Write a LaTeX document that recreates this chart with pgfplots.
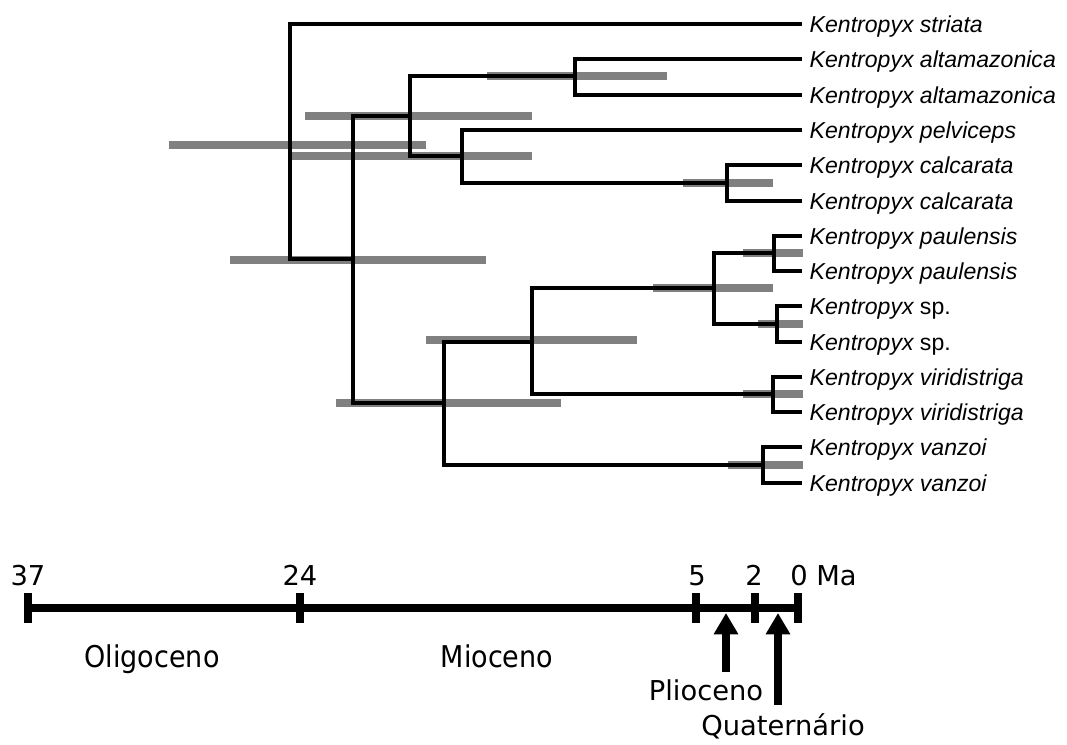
\documentclass[border=0pt]{standalone}
\usepackage{fontspec}
\setmainfont{Liberation Sans}
\newfontfamily\tfont{DejaVu Sans}
\newfontfamily\tfontn[FakeStretch=0.9]{DejaVu Sans}
\usepackage{pgfplots}
\pgfplotsset{compat=1.18}
\usetikzlibrary{arrows.meta}

\definecolor{bargray}{HTML}{808080}
\tikzset{tip/.style={anchor=base west, font=\fontsize{17.3}{20}\selectfont\itshape}}

\begin{document}
\begin{tikzpicture}
\begin{axis}[
    width=800.25pt, height=558pt, scale only axis,
    xmin=0, xmax=1067, ymin=0, ymax=744,
    y dir=reverse, hide axis, clip=false,
    branch/.style={black, line width=2.7pt, no markers, line join=miter},
    hpd/.style={bargray, line width=5.4pt, no markers},
]
\path (axis cs:0,0) rectangle (axis cs:1067,744);

% 95% HPD bars (x from, x to at node height)
\addplot[hpd] coordinates {(169,145) (426,145)};
\addplot[hpd] coordinates {(305,116) (532,116)};
\addplot[hpd] coordinates {(292,156) (532,156)};
\addplot[hpd] coordinates {(230,260) (486,260)};
\addplot[hpd] coordinates {(487,76) (667,76)};
\addplot[hpd] coordinates {(683,183) (773,183)};
\addplot[hpd] coordinates {(336,403) (561,403)};
\addplot[hpd] coordinates {(426,340) (637,340)};
\addplot[hpd] coordinates {(653,288) (773,288)};
\addplot[hpd] coordinates {(743,253) (803,253)};
\addplot[hpd] coordinates {(758,324) (803,324)};
\addplot[hpd] coordinates {(743,394) (803,394)};
\addplot[hpd] coordinates {(728,465) (803,465)};

% tree branches
\addplot[branch] coordinates {(802,24) (290,24) (290,259) (353,259)};
\addplot[branch] coordinates {(410,116) (353,116) (353,403) (444,403)};
\addplot[branch] coordinates {(575,76) (410,76) (410,156) (462,156)};
\addplot[branch] coordinates {(802,59) (575,59) (575,95) (802,95)};
\addplot[branch] coordinates {(802,130) (462,130) (462,183) (727,183)};
\addplot[branch] coordinates {(802,165) (727,165) (727,201) (802,201)};
\addplot[branch] coordinates {(532,342) (444,342) (444,465) (763,465)};
\addplot[branch] coordinates {(714,288) (532,288) (532,394) (773,394)};
\addplot[branch] coordinates {(774,253) (714,253) (714,324) (777,324)};
\addplot[branch] coordinates {(802,236) (774,236) (774,271) (802,271)};
\addplot[branch] coordinates {(802,306) (777,306) (777,342) (802,342)};
\addplot[branch] coordinates {(802,377) (773,377) (773,412) (802,412)};
\addplot[branch] coordinates {(802,447) (763,447) (763,483) (802,483)};

% tip labels
\node[tip] at (axis cs:805,32) {Kentropyx striata};
\node[tip] at (axis cs:805,67) {Kentropyx altamazonica};
\node[tip] at (axis cs:805,103) {Kentropyx altamazonica};
\node[tip] at (axis cs:805,138) {Kentropyx pelviceps};
\node[tip] at (axis cs:805,173) {Kentropyx calcarata};
\node[tip] at (axis cs:805,209) {Kentropyx calcarata};
\node[tip] at (axis cs:805,244) {Kentropyx paulensis};
\node[tip] at (axis cs:805,279) {Kentropyx paulensis};
\node[tip] at (axis cs:805,314) {Kentropyx \upshape sp.};
\node[tip] at (axis cs:805,350) {Kentropyx \upshape sp.};
\node[tip] at (axis cs:805,385) {Kentropyx viridistriga};
\node[tip] at (axis cs:805,420) {Kentropyx viridistriga};
\node[tip] at (axis cs:805,455) {Kentropyx vanzoi};
\node[tip] at (axis cs:805,491) {Kentropyx vanzoi};

% time scale
\addplot[black, line width=6pt, no markers] coordinates {(24,607.5) (802,607.5)};
\addplot[black, line width=6pt, no markers] coordinates {(28,593) (28,623)};
\addplot[black, line width=6pt, no markers] coordinates {(300,593) (300,623)};
\addplot[black, line width=6pt, no markers] coordinates {(696,593) (696,623)};
\addplot[black, line width=6pt, no markers] coordinates {(755,593) (755,623)};
\addplot[black, line width=6pt, no markers] coordinates {(798,593) (798,623)};
\addplot[black, line width=6pt, no markers, -{Triangle[width=17.5pt,length=16pt]}] coordinates {(726,672) (726,613)};
\addplot[black, line width=6pt, no markers, -{Triangle[width=17.5pt,length=16pt]}] coordinates {(778,705) (778,613)};

\begin{scope}[every node/.style={font=\tfont\fontsize{20.5}{24}\selectfont}]
\node[anchor=base] at (axis cs:28,585) {37};
\node[anchor=base] at (axis cs:300,585) {24};
\node[anchor=base] at (axis cs:697,585) {5};
\node[anchor=base] at (axis cs:754,585) {2};
\node[anchor=base] at (axis cs:799,585) {0};
\node[anchor=base west, inner xsep=0pt] at (axis cs:816,585) {Ma};
\node[anchor=base] at (axis cs:706,700) {Plioceno};
\node[anchor=base] at (axis cs:783,735) {Quaternário};
\end{scope}
\node[anchor=base, font=\tfontn\fontsize{22.5}{26}\selectfont] at (axis cs:152,667) {Oligoceno};
\node[anchor=base, font=\tfontn\fontsize{22.5}{26}\selectfont] at (axis cs:497,667) {Mioceno};
\end{axis}
\end{tikzpicture}
\end{document}
